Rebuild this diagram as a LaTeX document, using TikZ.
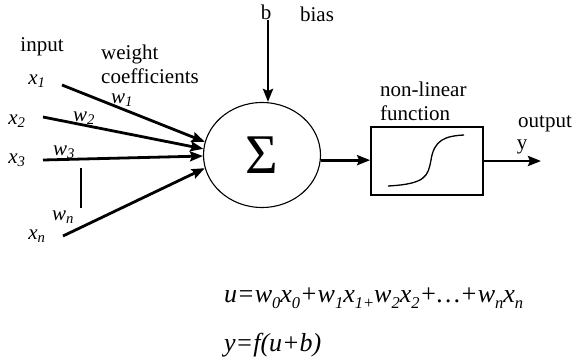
\documentclass[tikz,border=0pt]{standalone}
\usepackage{fontspec}
\setmainfont{Liberation Serif}
\usetikzlibrary{positioning,shapes.geometric,arrows.meta}

\tikzset{
  >={Stealth[length=13pt,width=10pt,inset=2pt]},
  every node/.style={inner sep=0pt},
  % --- nodes
  lbl/.style  = {font=\fontsize{21}{24}\selectfont, align=left},
  var/.style  = {font=\fontsize{21}{24}\selectfont\itshape},
  eqn/.style  = {font=\fontsize{26}{28}\selectfont\itshape, anchor=west},
  sumnode/.style = {ellipse, draw, line width=1.1pt, minimum width=117pt,
                    minimum height=105pt, font=\fontsize{56}{60}\selectfont},
  fbox/.style = {draw, line width=1.7pt, minimum width=112pt, minimum height=68pt},
  % --- edges
  wire/.style = {->, line width=2.8pt},
}
\newcommand{\sub}[2]{#1\textsubscript{#2}}
\newcommand{\esub}[2]{#1\raisebox{-0.24em}{\fontsize{16.5}{17}\selectfont #2}}

\begin{document}
\begin{tikzpicture}[x=1pt, y=-1pt]
  \useasboundingbox (0,0) rectangle (577,361);

  % inputs
  \node[lbl] (input) at (42,47) {input};
  \node[lbl, anchor=west] (wcoef) at (101,64) {weight\\coefficients};
  \node[var] (x1) at (37,81) {\sub{x}{1}};
  \node[var] (x2) at (17,121) {\sub{x}{2}};
  \node[var] (x3) at (17,160) {\sub{x}{3}};
  \node[var] (xn) at (37,236) {\sub{x}{n}};
  \coordinate (s1) at (62,85);
  \coordinate (s2) at (43,117);
  \coordinate (s3) at (43,160);
  \coordinate (sn) at (63,236);

  % summation and bias
  \node[sumnode] (sum) at (262,155) {Σ};
  \node[lbl] (b) at (266,12) {b};
  \node[lbl] (bias) at (317,14) {bias};

  \draw[wire] (s1) -- (sum.167);
  \draw[wire] (s2) -- (sum.174);
  \draw[wire] (s3) -- (sum.181);
  \draw[wire] (sn) -- (sum.193);
  \draw[wire] ([xshift=2pt]b.south) -- ([xshift=2pt]b.south |- sum.north);

  % weights
  \node[var] (w1) at (122,100) {\sub{w}{1}};
  \node[var] (w2) at (84,118) {\sub{w}{2}};
  \node[var] (w3) at (64,152) {\sub{w}{3}};
  \node[var] (wn) at (63,217) {\sub{w}{n}};
  \draw[line width=1.2pt] (81,168) -- (81,208);

  % non-linear function
  \node[lbl, anchor=west] (nltxt) at (380,101) {non-linear\\function};
  \node[fbox] (nl) at (427,161) {};
  \draw[line width=1.3pt] (388,186) .. controls (426,184) and (428,176) .. (431,160)
        .. controls (434,140) and (445,136) .. (464,135);
  \draw[wire] (sum.-5) -- (sum.-5 -| nl.west);

  % output
  \coordinate (yout) at (541,161);
  \draw[wire] (nl.east) -- (yout);
  \node[lbl] (outtxt) at (545,124) {output};
  \node[lbl] (y) at (522,147) {y};

  % equations
  \node[eqn] (equ) at (224,298) {u=\esub{w}{0}\esub{x}{0}+\esub{w}{1}\esub{x}{1+}\esub{w}{2}\esub{x}{2}+\dots+\esub{w}{n}\esub{x}{n}};
  \node[eqn] (eqy) at (224,345) {y=f(u+b)};
\end{tikzpicture}
\end{document}
